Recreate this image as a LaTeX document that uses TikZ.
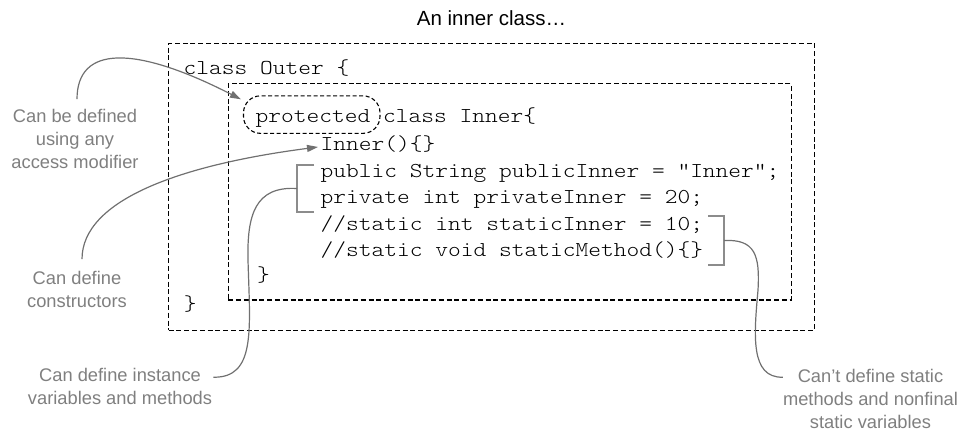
\documentclass[tikz,border=0pt]{standalone}
\usepackage{fontspec}
\usetikzlibrary{arrows.meta}
\newfontfamily\lblfont{Liberation Sans}
\newfontfamily\codefont[FakeStretch=1.145]{lmmonolt10-regular.otf}
\definecolor{lblgray}{HTML}{7F7F7F}
\definecolor{linegray}{HTML}{707070}
\definecolor{brgray}{HTML}{8C8C8C}
\begin{document}
\begin{tikzpicture}[x=1pt,y=-1pt,
  box/.style={draw=black,line width=1.2pt,dash pattern=on 5pt off 2.8pt,inner sep=0pt,anchor=north west},
  code/.style={anchor=base west,inner sep=0pt,font=\codefont\fontsize{21.2}{26}\selectfont},
  lbl/.style={anchor=north,inner sep=0pt,align=center,text=lblgray,font=\lblfont\fontsize{18.3}{23}\selectfont},
  conn/.style={draw=linegray,line width=1.2pt},
  arr/.style={conn,-{Triangle[length=11pt,width=7pt]}},
  brk/.style={draw=brgray,line width=1.3pt}]
\useasboundingbox (0,0) rectangle (966,432);
% title
\node[anchor=base,inner sep=0pt,font=\lblfont\fontsize{20.5}{24}\selectfont] (title) at (491.5,25) {An inner class…};
% boxes
\node[box,minimum width=646pt,minimum height=287pt] (outer) at (168,42.5) {};
\node[box,minimum width=563pt,minimum height=216.3pt] (inner) at (227.5,83) {};
\node[draw=black,line width=1.1pt,dash pattern=on 4pt off 2.5pt,rounded corners=17pt,
      minimum width=136.5pt,minimum height=37.5pt,inner sep=0pt] (prot) at (311.75,114.6) {};
% code
\node[code] (lOuter) at (183.5,74.5) {class Outer \{};
\node[code] (lInner) at (255.5,122.7) {protected class Inner\{};
\node[code] (ctor) at (320.5,150.5) {Inner()\{\}};
\node[code] (pub) at (320.5,177) {public String publicInner = "Inner";};
\node[code] (priv) at (320.5,203) {private int privateInner = 20;};
\node[code] (sint) at (320.5,230) {//static int staticInner = 10;};
\node[code] (svoid) at (320.5,256) {//static void staticMethod()\{\}};
\node[code] (cInner) at (257,281.5) {\}};
\node[code] (cOuter) at (183.6,310) {\}};
% labels
\node[lbl] (lblA) at (75,109.2) {Can be defined\\using any\\access modifier};
\node[lbl] (lblB) at (77,271.2) {Can define\\constructors};
\node[lbl] (lblC) at (120,368.2) {Can define instance\\variables and methods};
\node[lbl] (lblD) at (870.5,369.2) {Can’t define static\\methods and nonfinal\\static variables};
% brackets
\coordinate (bi1) at (314,165);
\coordinate (bi2) at (297,165);
\coordinate (bi3) at (297,212);
\coordinate (bi4) at (314,212);
\coordinate (bim) at (297,188.5);
\coordinate (bs1) at (708,216);
\coordinate (bs2) at (724,216);
\coordinate (bs3) at (724,265);
\coordinate (bs4) at (708,265);
\coordinate (bsm) at (724,240.5);
\draw[brk] (bi1) -- (bi2) -- (bi3) -- (bi4);
\draw[brk] (bs1) -- (bs2) -- (bs3) -- (bs4);
% connectors
\draw[arr] ([xshift=2pt,yshift=10pt]lblA.north) .. controls (77,45) and (135,45) .. ([xshift=-2pt,yshift=-4pt]prot.north west);
\draw[arr] ([xshift=5pt,yshift=12pt]lblB.north) .. controls (82,200) and (180,165) .. ([xshift=-2.5pt,yshift=3.5pt]ctor.base west);
\draw[conn] (bim) .. controls (255,186) and (247,215) .. (248,260) .. controls (250,330) and (256,378) .. ([xshift=1pt,yshift=-9pt]lblC.north east);
\draw[conn] (bsm) .. controls (755,239) and (760,255) .. (758,290) .. controls (754,335) and (750,378) .. ([yshift=-8pt]lblD.north west);
\end{tikzpicture}
\end{document}
